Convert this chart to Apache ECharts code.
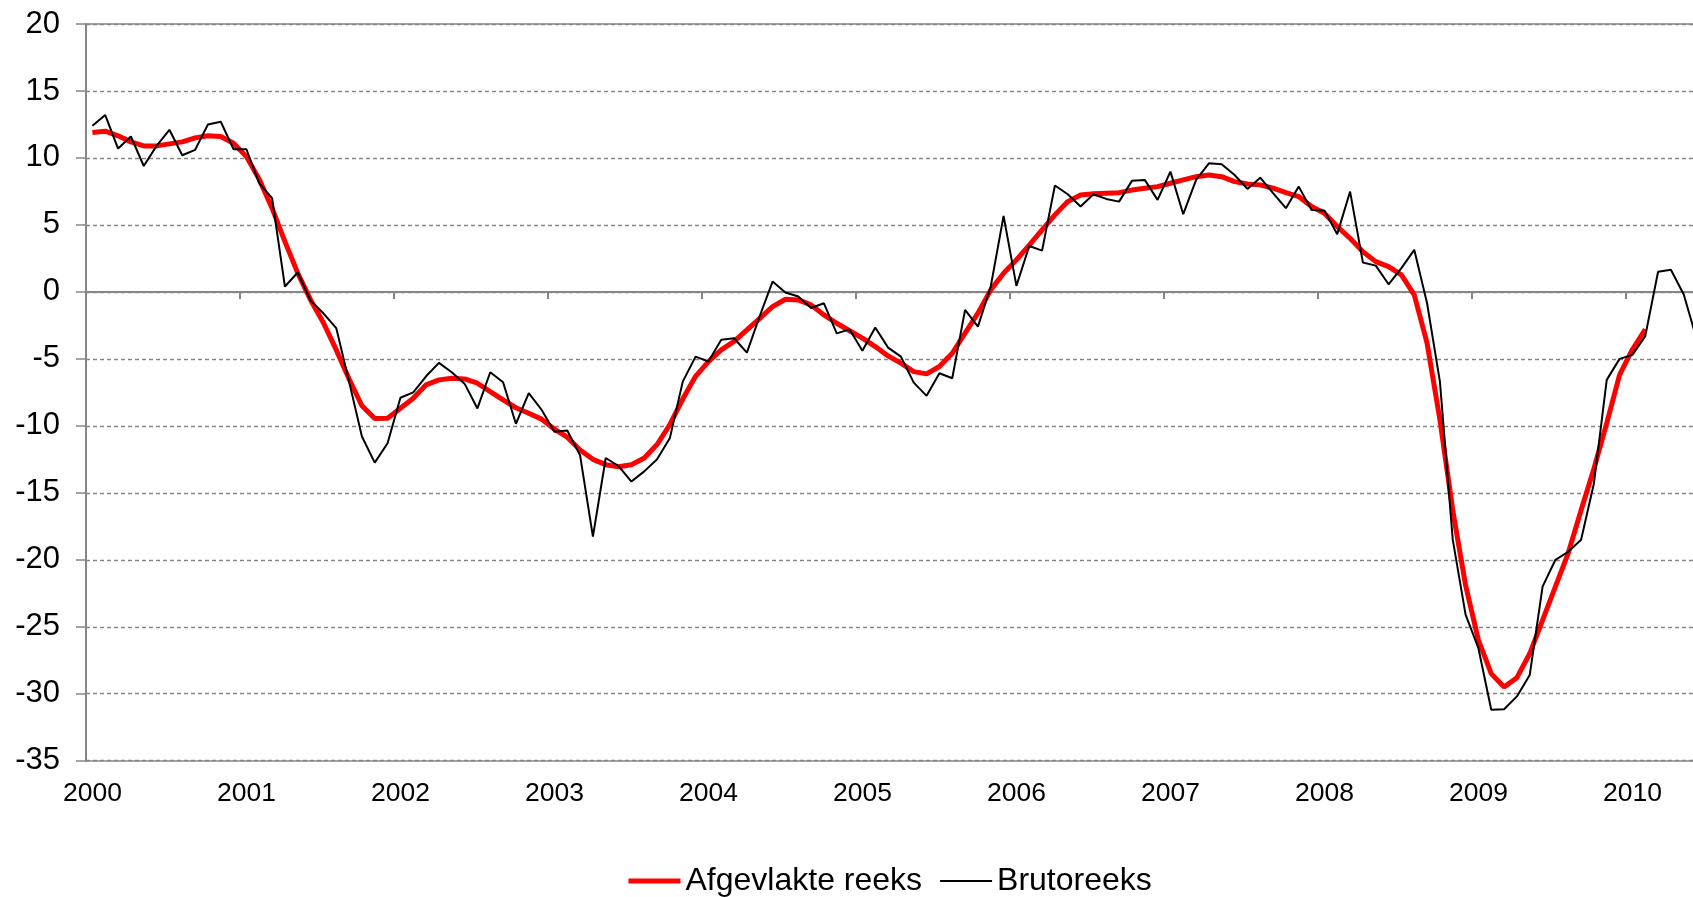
<!DOCTYPE html>
<html>
<head>
<meta charset="utf-8">
<script src="https://cdn.jsdelivr.net/npm/echarts@6/dist/echarts.min.js"></script>
<style>
  html, body { margin: 0; padding: 0; background: #fff; overflow: hidden; }
  /* the chart is wider than the window: the right end is cut off like in the original */
  #chart { width: 1703px; height: 897px; }
</style>
</head>
<body>
<div id="chart"></div>
<script>
// years on the axis, one category per month (Jan 2000 .. Jun 2010)
const years = ["2000", "2001", "2002", "2003", "2004", "2005", "2006", "2007", "2008", "2009", "2010"];
const monthsLastYear = 6;

// smoothed series (ends Feb 2010)
const afgevlakte = [
  11.9, 12.0, 11.65, 11.2, 10.9, 10.9, 11.05, 11.2, 11.5, 11.65, 11.6, 11.1,
  10.1, 8.4, 6.25, 3.75, 1.4, -0.6, -2.3, -4.33, -6.5, -8.5, -9.45, -9.43,
  -8.69, -7.94, -6.94, -6.57, -6.45, -6.5, -6.82, -7.44, -8.06, -8.65, -9.06, -9.5,
  -10.25, -10.85, -11.8, -12.5, -12.9, -13.05, -12.9, -12.4, -11.4, -9.9, -8.0, -6.3,
  -5.2, -4.33, -3.7, -2.84, -1.97, -1.1, -0.55, -0.6, -0.97, -1.72, -2.34, -2.9,
  -3.45, -4.08, -4.78, -5.32, -5.95, -6.12, -5.57, -4.58, -3.08, -1.59, 0.15, 1.39,
  2.39, 3.5, 4.63, 5.75, 6.74, 7.24, 7.32, 7.37, 7.41, 7.6, 7.74, 7.86,
  8.11, 8.36, 8.6, 8.73, 8.6, 8.23, 8.06, 7.99, 7.74, 7.41, 7.12, 6.37,
  5.87, 4.88, 4.0, 3.0, 2.26, 1.89, 1.27, -0.22, -3.83, -9.56, -16.3, -21.9,
  -26.0, -28.5, -29.5, -28.8, -27.0, -24.5, -22.0, -19.5, -16.3, -13.2, -9.8, -6.2,
  -4.3, -2.8
];

// raw series
const bruto = [
  12.4, 13.2, 10.7, 11.6, 9.4, 10.9, 12.1, 10.2, 10.6, 12.5, 12.7, 10.65,
  10.65, 8.1, 7.0, 0.4, 1.45, -0.65, -1.6, -2.7, -6.7, -10.8, -12.75, -11.3,
  -7.9, -7.5, -6.3, -5.3, -6.0, -6.85, -8.7, -6.0, -6.75, -9.85, -7.55, -8.8,
  -10.45, -10.35, -12.2, -18.27, -12.4, -13.0, -14.16, -13.4, -12.5, -10.9, -6.7, -4.83,
  -5.2, -3.58, -3.46, -4.53, -1.8, 0.77, -0.05, -0.35, -1.2, -0.85, -3.1, -2.8,
  -4.4, -2.66, -4.16, -4.83, -6.77, -7.76, -6.07, -6.45, -1.34, -2.59, 0.4, 5.67,
  0.45, 3.43, 3.08, 7.94, 7.29, 6.37, 7.29, 6.94, 6.74, 8.29, 8.36, 6.87,
  8.98, 5.8, 8.36, 9.6, 9.53, 8.73, 7.69, 8.53, 7.37, 6.25, 7.86, 6.12,
  6.07, 4.31, 7.49, 2.19, 1.96, 0.57, 1.77, 3.14, -0.85, -6.7, -18.5, -24.1,
  -26.6, -31.2, -31.16, -30.2, -28.6, -22.0, -20.0, -19.4, -18.5, -14.3, -6.57, -5.0,
  -4.7, -3.3, 1.5, 1.65, -0.2, -3.5
];

const months = [];
years.forEach((y, k) => {
  const n = k === years.length - 1 ? monthsLastYear : 12;
  for (let m = 1; m <= n; m++) months.push(y + "-" + m);
});

const FONT = "'Liberation Sans', Arial, sans-serif";
const GRAY = "#868686";

const chart = echarts.init(document.getElementById("chart"));

const baseX = {
  type: "category",
  data: months,
  boundaryGap: true,
  axisLabel: { show: false },
  axisTick: { show: false },
  axisLine: { show: false },
  splitLine: { show: false },
};

chart.setOption({
  animation: false,
  backgroundColor: "#fff",
  grid: {
    left: 86,
    top: 24,
    right: 0,
    height: 736.7,
  },
  legend: {
    left: 626,
    bottom: 0,
    padding: 0,
    itemWidth: 52,
    itemHeight: 14,
    itemGap: 17,
    textStyle: { fontFamily: FONT, fontSize: 32, color: "#000" },
    data: [
      { name: "Afgevlakte reeks", lineStyle: { width: 5 }, itemStyle: { opacity: 0 } },
      { name: "Brutoreeks", lineStyle: { width: 2 }, itemStyle: { opacity: 0 } },
    ],
  },
  xAxis: [
    // bottom axis: labels + bottom border
    Object.assign({}, baseX, {
      position: "bottom",
      axisLine: { show: true, onZero: false, lineStyle: { color: GRAY, width: 1.5 } },
      axisLabel: {
        show: true,
        interval: 11,
        margin: 19,
        fontFamily: FONT,
        fontSize: 26.5,
        color: "#000",
        formatter: (v) => v.slice(0, 4),
      },
    }),
    // axis through zero with year ticks
    Object.assign({}, baseX, {
      position: "bottom",
      axisLine: { show: true, onZero: true, lineStyle: { color: GRAY, width: 2 } },
      axisTick: { show: true, interval: 11, length: 7, lineStyle: { color: GRAY, width: 2 } },
    }),
    // top border
    Object.assign({}, baseX, {
      position: "top",
      axisLine: { show: true, onZero: false, lineStyle: { color: GRAY, width: 1.5 } },
    }),
  ],
  yAxis: {
    type: "value",
    min: -35,
    max: 20,
    interval: 5,
    axisLine: { show: true, lineStyle: { color: GRAY, width: 2 } },
    axisTick: { show: true, length: 10, lineStyle: { color: GRAY, width: 1.5 } },
    axisLabel: { margin: 26, fontFamily: FONT, fontSize: 31, color: "#000" },
    splitLine: { lineStyle: { color: GRAY, width: 1.3, type: [4, 3] } },
  },
  series: [
    {
      name: "Afgevlakte reeks",
      type: "line",
      xAxisIndex: 0,
      data: afgevlakte,
      symbol: "none",
      lineStyle: { color: "#ff0000", width: 5 },
      itemStyle: { color: "#ff0000" },
    },
    {
      name: "Brutoreeks",
      type: "line",
      xAxisIndex: 0,
      data: bruto,
      symbol: "none",
      lineStyle: { color: "#000", width: 2 },
      itemStyle: { color: "#000" },
    },
  ],
});

window.addEventListener("resize", () => {
  chart.resize();
});
</script>
</body>
</html>
